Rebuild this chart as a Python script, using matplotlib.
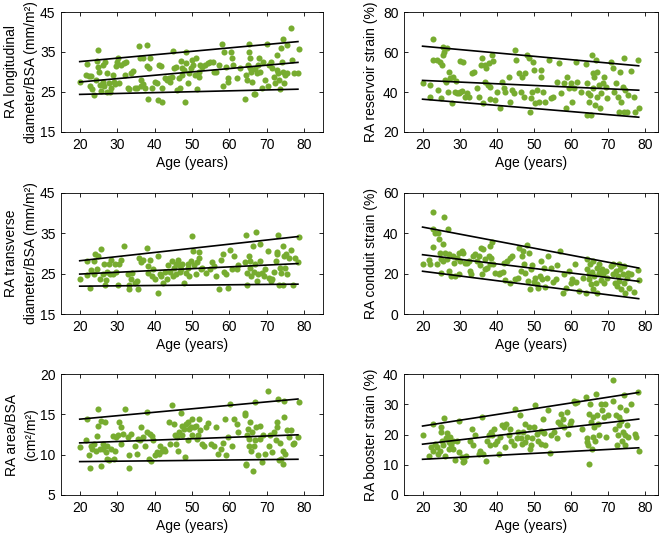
import matplotlib
matplotlib.use('Agg')
import matplotlib.pyplot as plt

plt.rcParams['font.family'] = ['Liberation Sans', 'DejaVu Sans']
plt.rcParams['font.size'] = 10

green = '#77AC30'

# ---- panel data (age, value) ----
long_age = [20, 22, 21.8, 22.5, 23, 22.7, 23.4, 23.8, 24.3, 24.9, 24.7, 25, 25.2, 25.4, 25.6, 26.1, 26.3, 26.5, 26.8, 27.2,
            27.4, 27.7, 28.1, 28.3, 28.8, 29.1, 29.3, 29.7, 30, 30.3, 30.6, 31.1, 31.7, 32, 32.4, 32.9, 33.3, 33.8, 34.2, 34.9,
            35.3, 35.9, 36.1, 36.3, 36.5, 36.8, 37, 37.4, 38.1, 38.1, 38.3, 38.6, 38.8, 39.2, 40, 40.6, 40.9, 41.1, 41.7, 42,
            42, 42.9, 43.3, 43.8, 44, 44.7, 44.9, 45.1, 45.6, 46.1, 46.5, 46.8, 47, 47.2, 47.4, 47.9, 48.1, 48.3, 48.5, 48.9,
            49.2, 49.7, 50.1, 50.4, 50.9, 51, 51.3, 51.8, 51.9, 52.1, 52.8, 53.6, 54.2, 54.7, 55.6, 56, 56.5, 57.2, 58.1, 58.3,
            58.5, 59.2, 59.5, 59.7, 60.3, 60.6, 61, 61.9, 62.8, 64.2, 64.5, 64.6, 64.9, 65.1, 65.3, 65.4, 65.6, 65.8, 66, 66.5,
            66.7, 66.9, 67.4, 67.7, 68, 68.3, 68.6, 68.9, 69.6, 70.1, 70.3, 70.5, 71, 71.5, 71.9, 72.2, 72.6, 72.8, 73.1, 73.3,
            73.5, 73.7, 74, 74.2, 74.3, 74.6, 74.9, 75.4, 75.5, 76.4, 76.7, 77.3, 78.3, 78.5]
long_val = [27.4, 31.9, 29.3, 29.0, 29.0, 26.6, 25.8, 24.3, 28.0, 35.5, 32.7, 31.3, 30.1, 26.8, 25.3, 27.6, 31.7, 26.4, 32.6, 25.1,
            29.7, 27.2, 24.9, 25.9, 29.3, 27.4, 26.9, 31.6, 32.6, 33.6, 27.2, 31.7, 32.2, 29.3, 32.6, 25.9, 25.7, 29.7, 30.3, 25.9,
            25.9, 36.5, 33.4, 28.0, 26.4, 33.4, 26.9, 25.9, 36.7, 31.5, 23.2, 30.9, 33.4, 25.9, 27.6, 27.2, 23.0, 31.7, 31.6, 22.6,
            25.9, 28.4, 28.0, 28.4, 27.6, 28.8, 35.2, 30.9, 31.3, 25.5, 28.4, 25.9, 32.7, 29.3, 30.9, 30.5, 22.6, 34.9, 32.2, 27.2,
            29.7, 30.9, 33.0, 31.7, 29.3, 33.4, 25.8, 28.8, 30.1, 31.7, 31.3, 31.7, 32.2, 32.4, 32.6, 30.1, 29.9, 31.7, 37.0, 26.4,
            35.1, 31.3, 28.4, 27.6, 34.9, 33.4, 31.7, 28.4, 30.9, 23.3, 29.3, 28.0, 31.7, 37.1, 35.1, 33.4, 30.9, 30.1, 27.6, 24.5,
            30.8, 24.5, 29.7, 31.7, 33.4, 30.1, 25.9, 32.6, 28.0, 37.0, 26.6, 31.7, 32.6, 30.9, 28.8, 27.2, 30.5, 34.2, 29.7, 28.0,
            25.8, 35.9, 32.6, 30.1, 38.2, 27.2, 29.3, 29.7, 36.7, 40.9, 33.0, 29.7, 29.7, 35.7]

res_age = [20, 22, 22, 22.7, 22.9, 23.8, 24.2, 24.7, 24.9, 25.1, 25.4, 25.6, 25.9, 26, 26.3, 26.5, 26.8, 27, 27.4, 27.9,
           28.3, 28.8, 29, 29.2, 29.7, 30.1, 30.1, 30.6, 31, 31.3, 31.9, 32.4, 33.3, 33.9, 34.6, 35.1, 35.7, 36, 36.4, 36.7,
           36.9, 37.2, 37.6, 38, 38.1, 38.2, 38.7, 39, 39.6, 40, 40.9, 41.4, 41.8, 42.3, 43.2, 43.6, 44.1, 44.5, 45, 45.2,
           45.9, 46.4, 46.8, 47.3, 47.7, 48.2, 48.6, 48.9, 49.1, 49.5, 49.8, 50, 50.4, 50.9, 51.3, 51.8, 52, 52.5, 53.1, 54,
           54.5, 55.2, 56.1, 56.7, 57.2, 58.1, 58.5, 59, 59.4, 59.9, 60.3, 60.8, 61.2, 61.7, 62.6, 64, 64.2, 64.4, 64.6, 64.9,
           65.1, 65.3, 65.6, 65.8, 66, 66.2, 66.4, 66.7, 66.9, 67.1, 67.4, 67.7, 68, 68.5, 68.9, 69.4, 69.8, 70.7, 71.2, 71.6,
           72.1, 72.5, 73, 73.2, 73.4, 73.9, 74.2, 74.3, 74.6, 75.1, 75.2, 76.2, 77, 77.3, 77.9, 78.2]
res_val = [44.7, 43.5, 37.7, 66.4, 56.0, 56.0, 41.0, 55.1, 36.9, 53.5, 58.4, 62.6, 59.8, 46.0, 45.2, 61.8, 40.2, 50.1, 46.8, 34.4,
           47.7, 40.2, 45.5, 39.4, 39.4, 55.5, 40.2, 40.5, 54.8, 37.7, 39.4, 37.7, 49.3, 49.8, 41.9, 37.7, 53.5, 56.8, 34.4, 45.2,
           53.5, 51.8, 43.5, 54.3, 36.4, 42.7, 58.4, 55.5, 36.1, 40.2, 32.2, 45.2, 41.9, 40.2, 47.7, 34.9, 41.0, 39.4, 60.9, 56.0,
           49.3, 40.2, 47.7, 37.7, 49.3, 58.4, 56.8, 30.2, 36.9, 40.2, 55.1, 51.0, 34.4, 41.0, 35.2, 47.7, 51.0, 40.2, 35.2, 56.0,
           36.9, 37.7, 45.2, 54.3, 39.4, 44.3, 31.9, 47.7, 41.9, 44.3, 35.2, 41.9, 55.1, 45.2, 40.2, 53.8, 44.3, 28.6, 39.4, 35.2,
           38.5, 28.6, 58.4, 49.3, 41.9, 47.7, 33.6, 56.0, 37.7, 50.1, 43.5, 31.9, 39.4, 44.3, 47.7, 42.7, 36.9, 55.1, 51.8, 40.2,
           44.3, 37.7, 30.2, 50.1, 35.2, 42.7, 56.8, 30.2, 41.0, 30.2, 38.5, 50.5, 37.7, 30.2, 56.0, 31.9]

trans_age = [20, 22, 22, 22.7, 22.9, 23.8, 23.8, 24.1, 24.7, 24.9, 25.4, 25.8, 26.1, 26.5, 26.8, 27, 27.4, 27.7, 28.1, 28.3,
             28.8, 29.3, 29.7, 30.2, 30.6, 30.9, 31.8, 32.9, 33.2, 33.6, 34, 33.3, 34.8, 35.2, 35.5, 35.9, 36.5, 37, 38.1, 38.2,
             38.3, 38.8, 39.2, 39.7, 40.1, 40.8, 41, 41.5, 41.8, 42.3, 42.8, 43.2, 43.7, 44.1, 44.6, 44.8, 45.3, 45.6, 45.8, 46.3,
             46.5, 46.8, 47, 47.4, 47.9, 48.3, 48.8, 49, 49.2, 49.7, 50.1, 50.3, 50.6, 51, 51.3, 51.8, 51.9, 52.4, 52.8, 53.8,
             54.7, 55.4, 56, 56.5, 57.2, 57.8, 58.3, 58.6, 59.2, 59.7, 60.1, 60.6, 61.2, 61.9, 62.4, 64.2, 64.5, 64.6, 64.6, 65.1,
             65.4, 65.6, 65.8, 66.3, 66.5, 66.8, 67, 67.3, 67.7, 68.3, 68.3, 68.8, 69.2, 69.6, 70.2, 70.5, 71, 71.4, 71.9, 72.4,
             72.6, 72.8, 73.1, 73.3, 73.5, 73.7, 74.2, 74.4, 74.6, 74.9, 75.1, 75.4, 76, 76.4, 76.9, 77.6, 78.3, 78.5]
trans_val = [23.8, 28.1, 24.6, 21.5, 25.9, 24.8, 28.1, 29.8, 26.2, 29.4, 23.8, 31.2, 24.8, 27.3, 22.3, 23.5, 25.5, 27.3, 24.8, 28.5,
             24.8, 27.3, 25.5, 22.1, 27.3, 28.5, 31.8, 24.8, 22.1, 23.8, 25.2, 21.1, 22.8, 23.2, 21.1, 29.0, 27.8, 28.5, 31.4, 25.2,
             26.8, 28.5, 24.4, 26.1, 23.6, 20.1, 29.4, 24.8, 24.4, 22.8, 25.5, 23.6, 27.1, 25.5, 28.1, 24.4, 26.5, 27.5, 24.8, 28.5,
             27.1, 25.5, 26.2, 27.3, 22.8, 25.2, 27.3, 26.5, 24.4, 28.1, 34.3, 30.6, 27.1, 24.8, 27.8, 29.0, 30.4, 26.1, 26.5, 25.2,
             26.1, 27.8, 26.8, 24.4, 21.2, 28.5, 29.8, 25.5, 24.8, 21.5, 30.9, 26.1, 29.5, 26.1, 27.1, 27.8, 34.5, 25.2, 22.1, 29.4,
             26.5, 28.1, 24.4, 31.8, 25.5, 27.3, 35.3, 23.2, 24.8, 28.1, 32.3, 25.2, 24.4, 26.1, 30.6, 24.0, 23.2, 23.6, 25.5, 28.1,
             29.8, 30.4, 34.5, 22.3, 26.5, 25.2, 31.8, 22.3, 29.4, 26.5, 29.8, 24.8, 29.0, 30.8, 22.3, 29.0, 27.9, 34.2]

cond_age = [20, 21.8, 22, 22.7, 22.9, 22.9, 23.3, 23.8, 24.1, 24.5, 24.7, 24.9, 25, 25.4, 25.6, 25.9, 26.1, 26.5, 26.8, 27,
            27.2, 27.7, 28.1, 28.5, 28.8, 29.2, 29.7, 29.9, 30.1, 30.6, 31, 31.5, 31.9, 32.4, 32.8, 33.1, 33.7, 34.2, 34.6, 35.1,
            35.5, 35.8, 36, 36.2, 36.7, 36.9, 37.3, 37.8, 38.1, 38.2, 38.4, 38.7, 39, 39.6, 40.5, 40.9, 41.6, 41.8, 42.3, 42.7,
            43.5, 43.6, 44.1, 45, 45.7, 45.9, 46.4, 46.8, 47.1, 47.3, 47.5, 48, 48.3, 48.6, 48.9, 49.1, 49.5, 50, 50.4, 50.9,
            51.1, 51.6, 51.8, 52.2, 52.7, 52.9, 53.4, 53.8, 54.5, 55.2, 55.8, 56.3, 57, 57.9, 58.1, 58.5, 59.4, 59.9, 60.3, 61,
            61.2, 62.1, 63.3, 64, 64.2, 64.4, 64.7, 64.9, 65.1, 65.3, 65.6, 65.8, 66, 66.2, 66.7, 66.9, 67.1, 67.4, 67.6, 68,
            68.3, 68.5, 68.9, 69.4, 69.8, 70.7, 71.2, 71.4, 71.8, 72.1, 72.3, 72.5, 72.8, 73, 73.2, 73.4, 73.9, 74.2, 74.3, 74.6,
            75.1, 75.2, 75.7, 76.2, 77, 77.9, 78.2]
cond_val = [25.0, 26.6, 25.0, 50.7, 42.3, 33.2, 40.3, 24.6, 40.3, 37.0, 30.4, 20.5, 27.1, 34.5, 26.3, 48.3, 30.4, 27.1, 42.3, 21.3,
            29.6, 18.8, 28.8, 25.1, 18.8, 27.9, 30.4, 19.7, 26.3, 31.2, 30.1, 25.5, 25.5, 26.3, 21.3, 19.7, 28.8, 29.9, 26.3, 28.8,
            24.1, 32.9, 19.7, 32.1, 27.1, 22.2, 23.0, 28.8, 33.7, 24.6, 27.9, 35.7, 24.6, 20.5, 19.7, 20.5, 20.8, 25.5, 16.9, 26.3,
            27.9, 15.5, 28.8, 17.5, 18.0, 32.9, 21.3, 28.8, 31.2, 25.0, 20.5, 34.2, 16.4, 30.4, 12.2, 22.2, 24.1, 15.9, 18.0, 14.8,
            13.1, 18.8, 26.3, 17.2, 23.0, 13.6, 18.0, 28.8, 23.0, 15.9, 17.2, 24.1, 31.2, 10.6, 19.7, 13.1, 21.3, 15.2, 17.2, 24.6,
            15.9, 11.4, 18.0, 10.3, 22.2, 27.4, 17.2, 19.7, 24.6, 14.8, 20.8, 12.2, 26.3, 18.8, 15.5, 23.0, 10.6, 20.5, 24.6, 16.9,
            22.5, 19.7, 15.5, 21.3, 18.0, 23.8, 19.7, 24.6, 15.5, 21.3, 13.9, 18.8, 24.6, 16.4, 22.5, 12.2, 19.7, 24.0, 15.5, 10.6,
            18.0, 20.5, 13.1, 19.7, 10.9, 21.8, 16.9]

area_age = [20, 21.8, 22, 22.5, 22.7, 22.9, 23.4, 23.8, 24.3, 24.7, 24.9, 25, 25.4, 25.6, 25.8, 26.1, 26.3, 26.8, 27, 27.3,
            27.4, 27.7, 28.3, 28.8, 29.1, 29.4, 29.7, 30.2, 30.6, 30.9, 31.1, 31.5, 32, 32.9, 33.2, 33.3, 33.8, 34.7, 35.2, 35.6,
            36, 36.5, 37, 37.4, 37.9, 38.1, 38.5, 38.8, 39, 39.2, 39.7, 40.1, 40.6, 41.1, 41.5, 42, 42.4, 42.9, 43.8, 44,
            44.7, 45.1, 45.4, 45.6, 46, 46.3, 46.5, 47, 47.2, 47.4, 47.9, 48.1, 48.3, 48.8, 49, 49.2, 49.7, 49.9, 50.1, 50.6,
            51, 51.3, 51.5, 51.9, 52.2, 52.8, 53.3, 53.8, 54.2, 55.1, 56, 56.5, 56.9, 57.8, 58.3, 58.7, 59.2, 59.5, 60.1, 60.6,
            61.2, 61.9, 62.2, 64.2, 64.2, 64.5, 64.5, 64.6, 64.9, 65.1, 65.3, 65.6, 65.8, 66, 66.3, 66.5, 66.7, 66.9, 67.2, 67.6,
            68.1, 68.3, 68.8, 69, 69.6, 70.3, 70.5, 70.8, 71.5, 71.9, 72.4, 72.6, 72.8, 73.1, 73.3, 73.5, 73.7, 74.2, 74.4, 74.6,
            74.6, 74.9, 75.4, 76, 76.4, 76.9, 77.3, 78.3, 78.5]
area_val = [11.0, 11.8, 14.4, 9.9, 8.4, 11.1, 10.7, 11.3, 10.5, 12.3, 15.7, 13.5, 10.7, 14.2, 8.6, 11.3, 10.7, 14.1, 10.3, 9.5,
            11.1, 9.3, 10.7, 12.3, 9.5, 10.5, 12.2, 12.4, 14.0, 13.4, 11.3, 12.6, 15.6, 12.2, 8.4, 9.9, 12.6, 11.1, 10.1, 12.0,
            11.8, 13.4, 12.2, 11.1, 15.3, 12.8, 9.5, 12.6, 9.2, 12.3, 11.8, 9.9, 10.3, 10.1, 11.1, 10.5, 10.7, 10.5, 14.0, 11.3,
            16.1, 13.8, 12.4, 11.3, 12.2, 10.5, 12.8, 15.2, 13.6, 12.4, 13.2, 9.7, 13.8, 11.8, 14.0, 13.2, 13.4, 12.4, 14.4, 13.4,
            13.6, 12.0, 12.4, 14.4, 13.0, 11.3, 11.1, 13.4, 13.9, 11.3, 11.1, 13.4, 10.1, 10.7, 11.5, 14.4, 9.9, 12.2, 16.3, 11.1,
            14.4, 13.8, 12.8, 15.2, 14.9, 8.9, 8.7, 12.4, 13.2, 12.0, 11.1, 14.0, 10.5, 12.8, 8.0, 11.1, 16.5, 11.8, 13.4, 9.9,
            12.0, 13.5, 9.1, 12.4, 10.1, 17.9, 11.1, 12.4, 10.3, 12.8, 11.8, 14.0, 13.4, 16.9, 9.4, 11.5, 9.5, 10.5, 8.8, 16.7,
            14.7, 10.1, 13.1, 12.2, 13.1, 11.3, 11.5, 12.2, 16.5]

boost_age = [20, 21.8, 22.4, 22.7, 22.9, 23.3, 23.8, 24.2, 24.7, 24.9, 25, 25.1, 25.4, 25.8, 26, 26.3, 26.7, 27, 27.2, 27.4,
             27.7, 28.1, 28.3, 28.8, 29.2, 29.7, 29.9, 30.6, 30.9, 31.1, 31.6, 32.9, 33.2, 33.6, 34, 35.2, 35.6, 35.9, 36.4, 37,
             37.4, 37.9, 38.1, 38.5, 38.7, 39.2, 39.6, 40, 40.5, 40.9, 41.4, 41.8, 42.1, 42.6, 43.2, 43.5, 43.8, 44.6, 45, 45.3,
             45.7, 46.2, 46.4, 46.8, 47.1, 47.5, 47.7, 48.2, 48.6, 48.9, 49.1, 49.5, 50, 50.2, 50.7, 51.1, 51.8, 52, 52.5, 52.6,
             53.1, 53.8, 54.3, 54.7, 55.3, 56.1, 56.5, 57, 57.3, 57.9, 58.2, 58.8, 59.2, 59.6, 60.1, 60.7, 61, 61.6, 63, 63.9,
             64.2, 64.4, 64.6, 64.9, 64.9, 65.1, 65.3, 65.6, 65.8, 66, 66.2, 66.5, 66.7, 67, 67.3, 67.6, 68, 68.3, 68.8, 69.2,
             69.4, 69.9, 71.2, 71.4, 71.8, 72.1, 72.4, 72.5, 72.8, 73, 73.3, 73.4, 73.7, 73.9, 74.2, 74.4, 74.6, 74.8, 75.1, 75.3,
             76.2, 77.1, 77.4, 78, 78.2]
boost_val = [19.7, 13.0, 15.8, 23.5, 14.7, 16.9, 16.0, 13.6, 14.7, 22.4, 20.8, 18.0, 16.4, 25.4, 13.0, 18.7, 20.4, 15.2, 17.5, 19.1,
             16.4, 18.0, 15.2, 11.5, 18.0, 14.1, 24.6, 12.4, 10.9, 11.4, 13.0, 18.0, 21.8, 16.4, 19.7, 13.6, 14.7, 25.7, 13.6, 11.4,
             18.0, 19.7, 16.4, 20.8, 19.7, 21.8, 16.9, 18.0, 13.6, 19.1, 23.0, 22.4, 15.8, 23.5, 19.7, 21.8, 18.0, 16.4, 28.5, 18.7,
             20.9, 26.3, 18.7, 16.9, 20.8, 23.5, 17.5, 19.1, 22.4, 15.2, 16.4, 18.7, 22.4, 29.6, 20.2, 18.0, 16.9, 21.3, 25.2, 20.4,
             16.4, 28.2, 13.8, 19.7, 20.8, 18.7, 24.1, 23.5, 26.9, 25.2, 22.4, 27.4, 20.2, 23.5, 24.6, 31.1, 30.4, 30.8, 21.8, 32.4,
             18.7, 17.5, 16.4, 10.3, 26.9, 30.2, 24.1, 15.2, 19.1, 25.7, 22.4, 18.0, 33.5, 26.3, 23.5, 19.7, 30.2, 28.0, 25.7, 30.2,
             19.1, 26.3, 37.9, 31.2, 21.8, 26.3, 16.4, 19.7, 25.7, 23.0, 29.1, 24.6, 18.0, 20.8, 32.9, 16.4, 19.7, 28.0, 23.0, 19.1,
             30.2, 20.2, 19.1, 34.0, 14.7]

# percentile lines: [age start, age end] and values at both ends (upper, middle, lower)
line_age = [20, 78.3]
long_lines = [[32.6, 37.6], [27.5, 32.4], [24.4, 25.7]]
res_lines = [[62.9, 53.1], [45.8, 40.9], [36.4, 27.4]]
trans_lines = [[28.2, 34.2], [24.9, 27.5], [21.9, 22.4]]
cond_lines = [[43.1, 22.8], [29.4, 16.2], [21.2, 7.6]]
area_lines = [[14.4, 16.9], [11.46, 12.46], [9.14, 9.43]]
boost_lines = [[22.8, 33.9], [16.8, 25.1], [11.8, 15.6]]

panels = [
    (long_age, long_val, long_lines, 'RA longitudinal\ndiameter/BSA (mm/m²)', (15, 45), [15, 25, 35, 45]),
    (res_age, res_val, res_lines, 'RA reservoir strain (%)', (20, 80), [20, 40, 60, 80]),
    (trans_age, trans_val, trans_lines, 'RA transverse\ndiameter/BSA (mm/m²)', (15, 45), [15, 25, 35, 45]),
    (cond_age, cond_val, cond_lines, 'RA conduit strain (%)', (0, 60), [0, 20, 40, 60]),
    (area_age, area_val, area_lines, 'RA area/BSA\n(cm²/m²)', (5, 20), [5, 10, 15, 20]),
    (boost_age, boost_val, boost_lines, 'RA booster strain (%)', (0, 40), [0, 10, 20, 30, 40]),
]

fig = plt.figure(figsize=(6.69, 5.34), dpi=100)
W, H = 669, 534
rows = [(12, 132), (193, 314), (374, 495)]
cols = [(61, 323, (15, 85)), (404, 658, (15, 83.4))]

for i, (ages, vals, lines, ylab, ylim, yticks) in enumerate(panels):
    top, bot = rows[i // 2]
    left, right, xlim = cols[i % 2]
    ax = fig.add_axes([left / W, 1 - bot / H, (right - left) / W, (bot - top) / H])
    ax.plot(ages, vals, 'o', color=green, markersize=4.4, markeredgewidth=0)
    end = line_age[1] if i % 2 == 0 else 78.2
    for ln in lines:
        ax.plot([line_age[0], end], ln, color='black', lw=1.2)
    ax.set_xlim(xlim)
    ax.set_ylim(ylim)
    ax.set_xticks([20, 30, 40, 50, 60, 70, 80])
    ax.set_yticks(yticks)
    ax.tick_params(direction='in', top=True, right=True, length=3, width=0.6, labelsize=10, pad=4)
    for s in ax.spines.values():
        s.set_linewidth(0.6)
    ax.set_xlabel('Age (years)', fontsize=10, labelpad=3)
    ax.set_ylabel(ylab, fontsize=10, linespacing=1.5)
    if i % 2 == 0:
        # right edge of the label block sits ~38 px from the image's left edge
        ax.yaxis.set_label_coords((38 - left) / (right - left), 0.5)
    else:
        ax.yaxis.set_label_coords((378 - left) / (right - left), 0.5)

fig.savefig('out.png', dpi=100)
